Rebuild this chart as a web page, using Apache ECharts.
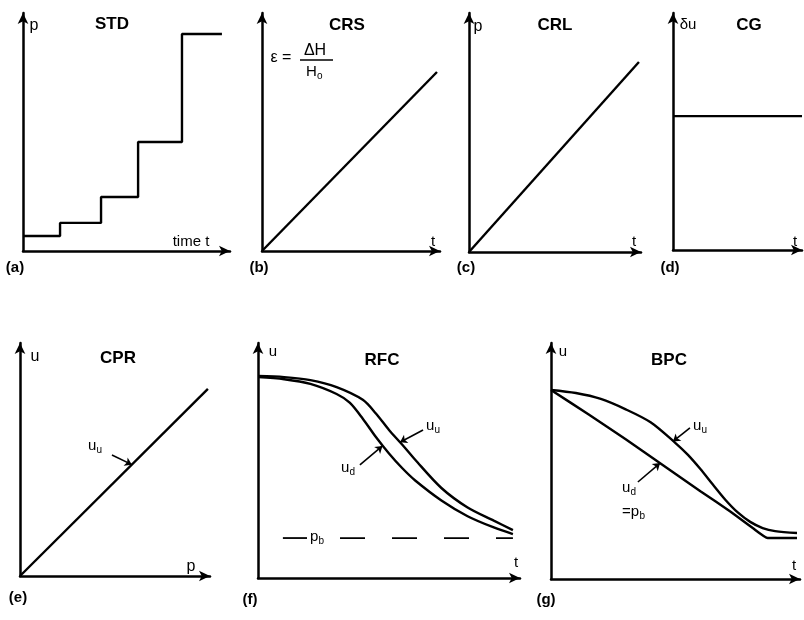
<!DOCTYPE html>
<html>
<head>
<meta charset="utf-8">
<script src="https://cdn.jsdelivr.net/npm/echarts@6/dist/echarts.min.js"></script>
<style>
  html, body { margin: 0; padding: 0; background: #fff; }
  #chart { width: 804px; height: 620px; }
</style>
</head>
<body>
<div id="chart"></div>
<script>
// all panels use 0..100 on both axes (axis length = 100)
const stdTime = [0, 17.9, 37.7, 55.6, 76.8, 96.1];
const stdLoad = [6.3, 11.8, 22.7, 45.8, 91.2, 91.2];

const crsTime = [0, 98.3];
const crsStrain = [0, 75.2];

const crlTime = [0, 98.8];
const crlLoad = [0, 79.5];

const cgTime = [0, 100];
const cgGrad = [56.5, 56.5];

const cprLoad = [0, 98.9];
const cprU = [0, 80.3];

const rfcTimeU = [0, 10, 20, 30, 40, 45, 50, 55, 60, 70, 80, 90, 97.3];
const rfcUu = [86, 85.5, 84.2, 81.2, 75.8, 70, 63, 56.8, 50.3, 38.3, 30, 24.4, 20.4];
const rfcTimeD = [0, 10, 20, 30, 35, 40, 45, 50, 55, 60, 70, 80, 90, 97.3];
const rfcUd = [85.5, 84.6, 82.6, 78.3, 74.6, 67.8, 60, 53, 46.8, 41.5, 33, 26.3, 21.5, 18.7];
const rfcPbLeadTime = [9.5, 18.7];
const rfcPbTime = [31.3, 97.3];
const rfcPb = [17, 17];

const bpcTimeU = [0, 10, 20, 30, 40, 50, 55, 60, 65, 70, 75, 80, 85, 90, 98.8];
const bpcUu = [80.1, 78.8, 76.3, 71.9, 66.4, 57.6, 52.6, 46.6, 40, 33.6, 28.2, 24.2, 21.6, 20.3, 19.5];
const bpcTimeD = [0, 15, 30, 45, 60, 72, 81, 87, 98.8];
const bpcUd = [80.1, 69.8, 59.2, 48.2, 37.2, 28.6, 21.6, 17.4, 17.4];

// pointer arrows: [tailX, tailY, tipX, tipY]
const cprArrow = [48.4, 51.9, 58.9, 47.8];
const rfcArrowU = [63, 63, 54.2, 57.8];
const rfcArrowD = [38.9, 48.1, 47.5, 56.2];
const bpcArrowU = [55.8, 64, 49, 58.3];
const bpcArrowD = [34.9, 41.1, 43.8, 49.1];

const FONT = "Liberation Sans";

const grids = [
  { left: 23, top: 13, width: 207, height: 238 },
  { left: 262, top: 13, width: 178, height: 238 },
  { left: 469, top: 13, width: 172, height: 239 },
  { left: 673, top: 13, width: 129, height: 237 },
  { left: 20, top: 343, width: 190, height: 233 },
  { left: 258, top: 343, width: 262, height: 235 },
  { left: 551, top: 343, width: 249, height: 236 }
];

const axisBase = (i) => ({
  gridIndex: i,
  type: "value",
  min: 0,
  max: 100,
  axisLine: {
    show: true,
    onZero: false,
    symbol: ["none", "arrow"],
    symbolSize: [8, 11],
    lineStyle: { color: "#000", width: 2.5 }
  },
  axisTick: { show: false },
  axisLabel: { show: false },
  splitLine: { show: false }
});

const zip = (xs, ys) => xs.map((x, i) => [x, ys[i]]);

const lineSeries = (i, xs, ys, extra) => Object.assign({
  type: "line",
  xAxisIndex: i,
  yAxisIndex: i,
  data: zip(xs, ys),
  showSymbol: false,
  silent: true,
  lineStyle: { color: "#000", width: 2.4 }
}, extra || {});

const pointer = (a) => ({
  silent: true,
  symbol: ["none", "arrow"],
  symbolSize: 7,
  label: { show: false },
  lineStyle: { color: "#000", width: 1.6, type: "solid" },
  data: [[{ coord: [a[0], a[1]] }, { coord: [a[2], a[3]] }]]
});

const txt = (x, y, s, size, weight, align) => ({
  type: "text",
  x: x,
  y: y,
  silent: true,
  style: {
    text: s,
    fontFamily: FONT,
    fontSize: size,
    fontWeight: weight || "normal",
    fill: "#000",
    textAlign: align || "center",
    textVerticalAlign: "middle",
    align: align || "center",
    verticalAlign: "middle"
  }
});

// main text + subscript, left aligned at x
const sub = (x, y, main, s, shift) => [
  txt(x, y, main, 15, "normal", "left"),
  txt(x + shift, y + 4, s, 10, "normal", "left")
];

const labels = [
  // (a)
  txt(34, 26, "p", 16), txt(112, 24, "STD", 17, "bold"),
  txt(191, 242, "time t", 15), txt(15, 268, "(a)", 15, "bold"),
  // (b)
  txt(347, 25, "CRS", 17, "bold"),
  txt(281, 58, "ε =", 16), txt(315, 51, "ΔH", 16),
  ...sub(306, 72, "H", "o", 11),
  txt(433, 242, "t", 15), txt(259, 268, "(b)", 15, "bold"),
  // (c)
  txt(478, 27, "p", 16), txt(555, 25, "CRL", 17, "bold"),
  txt(634, 242, "t", 15), txt(466, 268, "(c)", 15, "bold"),
  // (d)
  txt(688, 25, "δu", 15), txt(749, 25, "CG", 17, "bold"),
  txt(795, 242, "t", 15), txt(670, 268, "(d)", 15, "bold"),
  // (e)
  txt(35, 357, "u", 16), txt(118, 358, "CPR", 17, "bold"),
  ...sub(88, 446, "u", "u", 8.5),
  txt(191, 567, "p", 16), txt(18, 598, "(e)", 15, "bold"),
  // (f)
  txt(273, 352, "u", 15), txt(382, 360, "RFC", 17, "bold"),
  ...sub(426, 426, "u", "u", 8.5),
  ...sub(341, 468, "u", "d", 8.5),
  ...sub(310, 537, "p", "b", 8.5),
  txt(516, 563, "t", 15), txt(250, 600, "(f)", 15, "bold"),
  // (g)
  txt(563, 352, "u", 15), txt(669, 360, "BPC", 17, "bold"),
  ...sub(693, 426, "u", "u", 8.5),
  ...sub(622, 488, "u", "d", 8.5),
  ...sub(622, 512, "=p", "b", 17.5),
  txt(794, 566, "t", 15), txt(546, 600, "(g)", 15, "bold"),
  // fraction bar of ΔH / Ho
  {
    type: "line",
    silent: true,
    shape: { x1: 300, y1: 60, x2: 333, y2: 60 },
    style: { stroke: "#000", lineWidth: 1.5 }
  }
];

const option = {
  animation: false,
  backgroundColor: "#fff",
  grid: grids,
  xAxis: grids.map((g, i) => axisBase(i)),
  yAxis: grids.map((g, i) => axisBase(i)),
  series: [
    lineSeries(0, stdTime, stdLoad, { step: "end" }),
    lineSeries(1, crsTime, crsStrain),
    lineSeries(2, crlTime, crlLoad),
    lineSeries(3, cgTime, cgGrad),
    lineSeries(4, cprLoad, cprU, { markLine: pointer(cprArrow) }),
    lineSeries(5, rfcTimeU, rfcUu, { smooth: 0.3, markLine: pointer(rfcArrowU) }),
    lineSeries(5, rfcTimeD, rfcUd, { smooth: 0.3, markLine: pointer(rfcArrowD) }),
    lineSeries(5, rfcPbLeadTime, rfcPb, { lineStyle: { color: "#000", width: 1.8 } }),
    lineSeries(5, rfcPbTime, rfcPb, { lineStyle: { color: "#000", width: 1.8, type: [25, 27] } }),
    lineSeries(6, bpcTimeU, bpcUu, { smooth: 0.3, markLine: pointer(bpcArrowU) }),
    lineSeries(6, bpcTimeD, bpcUd, { smooth: 0.15, markLine: pointer(bpcArrowD) })
  ],
  graphic: labels
};

const chart = echarts.init(document.getElementById("chart"));
chart.setOption(option);
</script>
</body>
</html>
